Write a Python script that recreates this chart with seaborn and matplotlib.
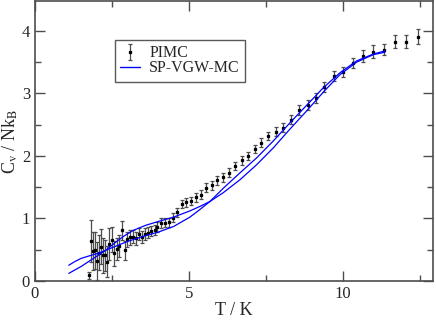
import seaborn as sns
import matplotlib.pyplot as plt
import pandas as pd
from matplotlib.lines import Line2D

# PIMC data
pimc_T = [1.76, 1.83, 1.88, 1.95, 2.01, 2.07, 2.13, 2.20, 2.26, 2.34, 2.41, 2.50, 2.57, 2.65,
          2.74, 2.82, 2.92, 3.00, 3.08, 3.17, 3.27, 3.37, 3.47, 3.57, 3.67, 3.78, 3.89, 3.97,
          4.09, 4.22, 4.36, 4.49, 4.62, 4.76, 4.91, 5.06, 5.24, 5.40, 5.56, 5.74, 5.92, 6.11,
          6.31, 6.50, 6.71, 6.93, 7.13, 7.35, 7.58, 7.82, 8.06, 8.32, 8.58, 8.85, 9.12, 9.40,
          9.71, 10.01, 10.31, 10.65, 10.98, 11.33, 11.69, 12.06, 12.42]
pimc_cv = [0.09, 0.64, 0.48, 0.49, 0.32, 0.45, 0.55, 0.41, 0.41, 0.31, 0.59, 0.66, 0.44, 0.51,
           0.56, 0.81, 0.49, 0.67, 0.70, 0.71, 0.68, 0.75, 0.70, 0.75, 0.77, 0.80, 0.82, 0.86,
           0.92, 0.93, 0.94, 1.01, 1.10, 1.23, 1.26, 1.28, 1.34, 1.38, 1.49, 1.53, 1.61, 1.66,
           1.73, 1.84, 1.93, 2.00, 2.11, 2.21, 2.32, 2.39, 2.45, 2.58, 2.73, 2.81, 2.92, 3.11,
           3.28, 3.35, 3.48, 3.60, 3.67, 3.70, 3.83, 3.83, 3.91]
pimc_err = [0.06, 0.33, 0.30, 0.30, 0.30, 0.28, 0.28, 0.28, 0.25, 0.25, 0.25, 0.20, 0.20, 0.18,
            0.18, 0.15, 0.15, 0.12, 0.12, 0.10, 0.10, 0.10, 0.10, 0.09, 0.09, 0.08, 0.08, 0.08,
            0.08, 0.07, 0.07, 0.07, 0.07, 0.07, 0.07, 0.07, 0.07, 0.07, 0.07, 0.07, 0.07, 0.07,
            0.07, 0.07, 0.07, 0.07, 0.07, 0.07, 0.07, 0.07, 0.07, 0.07, 0.08, 0.08, 0.08, 0.08,
            0.08, 0.08, 0.08, 0.09, 0.10, 0.09, 0.11, 0.11, 0.12]

# SP-VGW-MC, two curves
vgw1_T = [1.10, 1.30, 1.50, 1.70, 1.90, 2.10, 2.30, 2.60, 3.00, 3.50, 4.00, 4.50, 5.03, 5.35,
          5.68, 6.11, 6.66, 7.20, 7.74, 8.28, 8.82, 9.36, 9.90, 10.44, 10.98, 11.36]
vgw1_cv = [0.25, 0.31, 0.36, 0.39, 0.42, 0.45, 0.49, 0.55, 0.63, 0.71, 0.78, 0.87, 1.02, 1.14,
           1.27, 1.48, 1.73, 1.97, 2.24, 2.53, 2.81, 3.09, 3.33, 3.52, 3.63, 3.68]
vgw2_T = [1.10, 1.50, 1.90, 2.30, 2.60, 2.90, 3.20, 3.60, 4.00, 4.50, 5.03, 5.35,
          5.68, 6.11, 6.66, 7.20, 7.74, 8.28, 8.82, 9.36, 9.90, 10.44, 10.98, 11.36]
vgw2_cv = [0.12, 0.23, 0.36, 0.49, 0.61, 0.72, 0.81, 0.89, 0.95, 1.02, 1.12, 1.19,
           1.27, 1.41, 1.62, 1.86, 2.13, 2.43, 2.72, 3.02, 3.30, 3.50, 3.62, 3.66]

df_vgw = pd.DataFrame({
    "T": vgw1_T + vgw2_T,
    "cv": vgw1_cv + vgw2_cv,
    "curve": ["a"] * len(vgw1_T) + ["b"] * len(vgw2_T),
})

sns.set_style("ticks")
plt.rcParams['font.family'] = ['Liberation Serif', 'DejaVu Serif']
plt.rcParams['mathtext.fontset'] = 'stix'

fig = plt.figure(figsize=(4.36, 3.21), dpi=100)
ax = fig.add_axes([0.080, 0.125, 0.913, 0.872])

eb = ax.errorbar(pimc_T, pimc_cv, yerr=pimc_err, fmt='s', ms=1.4, color='black',
                 ecolor='0.3', elinewidth=0.9, capsize=1.6, capthick=0.9, zorder=2)
sns.lineplot(data=df_vgw, x="T", y="cv", units="curve", estimator=None, sort=False,
             color='#0000ff', lw=0.9, ax=ax, zorder=3)

ax.set_xlim(0, 12.92)
ax.set_ylim(0, 4.48)
ax.set_xticks([0, 5, 10])
ax.set_xticks([2.5, 7.5, 12.5], minor=True)
ax.set_yticks([0, 1, 2, 3, 4])
ax.set_yticks([0.5, 1.5, 2.5, 3.5], minor=True)
ax.tick_params(which='both', direction='in', top=True, right=True, labelsize=12,
               width=1, color='0.3')
ax.tick_params(which='major', length=7, pad=3.5)
ax.tick_params(which='minor', length=4)
for s in ax.spines.values():
    s.set_linewidth(1.2)
    s.set_color('0.3')

ax.set_xlabel("T / K", fontsize=13, labelpad=0)
ax.set_ylabel(r"C$_\mathrm{v}$ / Nk$_\mathrm{B}$", fontsize=13, labelpad=1)

line_handle = Line2D([], [], color='#0000ff', lw=1.0)
leg = ax.legend([eb, line_handle], ["PIMC", "SP-VGW-MC"], loc='upper left',
                bbox_to_anchor=(0.201, 0.862), borderaxespad=0, fancybox=False,
                fontsize=11.5, handlelength=1.2, handletextpad=0.6, labelspacing=-0.05,
                borderpad=0.35, framealpha=1)
leg.get_frame().set_edgecolor('0.35')
leg.get_frame().set_linewidth(1.0)

plt.savefig('out.png', dpi=100)
